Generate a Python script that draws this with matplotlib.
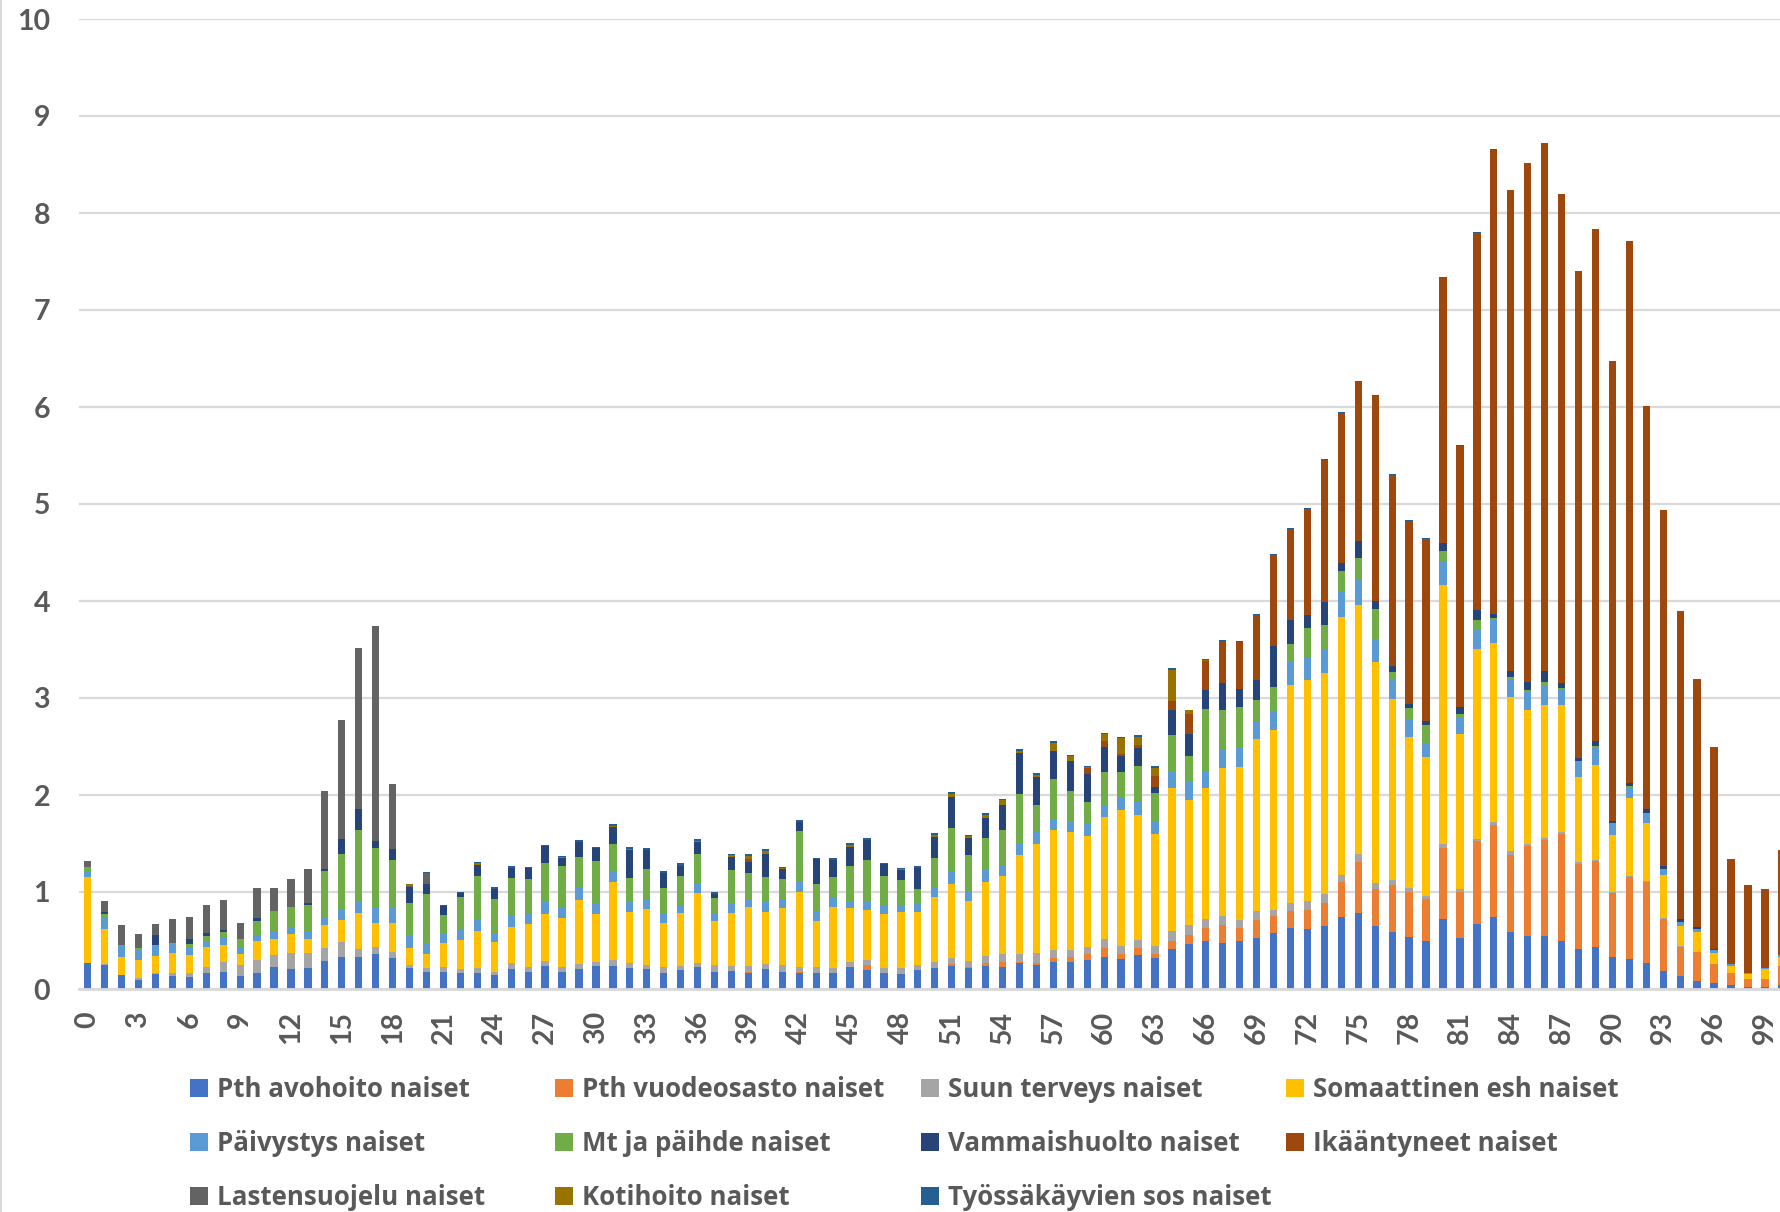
import matplotlib
matplotlib.use('Agg')
import matplotlib.pyplot as plt
from matplotlib.patches import Rectangle
import numpy as np

plt.rcParams['font.family'] = ['Lato', 'DejaVu Sans']

ages = list(range(0, 101))

# values per age 0..100
avo = [0.27, 0.245, 0.14, 0.09, 0.15, 0.13, 0.12, 0.16, 0.18, 0.13,
       0.16, 0.225, 0.205, 0.215, 0.285, 0.335, 0.33, 0.36, 0.32, 0.215,
       0.18, 0.175, 0.17, 0.17, 0.14, 0.205, 0.175, 0.24, 0.18, 0.205,
       0.235, 0.235, 0.215, 0.205, 0.17, 0.195, 0.225, 0.18, 0.185, 0.17,
       0.205, 0.175, 0.17, 0.165, 0.16, 0.225, 0.195, 0.16, 0.15, 0.195,
       0.215, 0.235, 0.215, 0.24, 0.225, 0.265, 0.25, 0.275, 0.275, 0.295,
       0.33, 0.31, 0.35, 0.315, 0.415, 0.46, 0.495, 0.475, 0.495, 0.53,
       0.575, 0.63, 0.615, 0.65, 0.74, 0.785, 0.65, 0.585, 0.54, 0.50,
       0.725, 0.53, 0.665, 0.74, 0.585, 0.545, 0.545, 0.495, 0.415, 0.43,
       0.33, 0.31, 0.265, 0.19, 0.13, 0.085, 0.065, 0.04, 0.025, 0.02,
       0.04]
vuode = [0, 0, 0, 0, 0, 0, 0, 0, 0, 0,
         0, 0, 0, 0, 0, 0, 0, 0, 0, 0,
         0, 0, 0, 0, 0, 0, 0, 0, 0, 0,
         0, 0, 0, 0, 0, 0, 0, 0, 0, 0.01,
         0, 0, 0.01, 0, 0, 0, 0.05, 0, 0, 0,
         0, 0.02, 0.015, 0.03, 0.055, 0.015, 0.015, 0.045, 0.055, 0.065,
         0.09, 0.05, 0.07, 0.045, 0.075, 0.10, 0.135, 0.185, 0.135, 0.18,
         0.175, 0.175, 0.20, 0.24, 0.36, 0.525, 0.385, 0.49, 0.465, 0.43,
         0.73, 0.475, 0.86, 0.95, 0.80, 0.93, 0.99, 1.10, 0.875, 0.89,
         0.655, 0.845, 0.84, 0.53, 0.305, 0.295, 0.19, 0.125, 0.075, 0.08,
         0.195]
suun = [0, 0.015, 0, 0.02, 0.015, 0.035, 0.04, 0.065, 0.10, 0.115,
        0.14, 0.13, 0.17, 0.155, 0.14, 0.145, 0.085, 0.075, 0.06, 0.03,
        0.035, 0.05, 0.035, 0.045, 0.04, 0.06, 0.05, 0.045, 0.045, 0.05,
        0.045, 0.06, 0.05, 0.045, 0.055, 0.045, 0.045, 0.07, 0.055, 0.055,
        0.055, 0.07, 0.05, 0.06, 0.055, 0.055, 0.05, 0.055, 0.065, 0.055,
        0.06, 0.065, 0.06, 0.075, 0.08, 0.08, 0.105, 0.08, 0.075, 0.075,
        0.095, 0.085, 0.085, 0.08, 0.105, 0.10, 0.095, 0.09, 0.085, 0.09,
        0.065, 0.085, 0.09, 0.09, 0.08, 0.08, 0.06, 0.05, 0.04, 0.03,
        0.045, 0.03, 0.025, 0.03, 0.035, 0.025, 0.025, 0.02, 0.015, 0.015,
        0.02, 0.015, 0.01, 0.01, 0.005, 0, 0, 0, 0, 0.005,
        0]
soma = [0.88, 0.36, 0.19, 0.19, 0.175, 0.205, 0.19, 0.21, 0.175, 0.12,
        0.19, 0.165, 0.19, 0.15, 0.235, 0.235, 0.37, 0.25, 0.305, 0.18,
        0.145, 0.245, 0.305, 0.385, 0.305, 0.375, 0.44, 0.485, 0.505, 0.66,
        0.495, 0.805, 0.53, 0.575, 0.46, 0.54, 0.715, 0.455, 0.545, 0.61,
        0.535, 0.585, 0.765, 0.475, 0.635, 0.55, 0.515, 0.555, 0.575, 0.545,
        0.675, 0.76, 0.615, 0.76, 0.80, 1.02, 1.125, 1.24, 1.21, 1.145,
        1.255, 1.405, 1.29, 1.155, 1.48, 1.29, 1.345, 1.53, 1.575, 1.775,
        1.855, 2.24, 2.28, 2.28, 2.66, 2.57, 2.275, 1.86, 1.55, 1.43,
        2.665, 1.59, 1.96, 1.85, 1.59, 1.38, 1.365, 1.31, 0.885, 0.975,
        0.585, 0.80, 0.60, 0.45, 0.205, 0.21, 0.12, 0.07, 0.055, 0.105,
        0.095]
paiv = [0.06, 0.12, 0.11, 0.10, 0.10, 0.095, 0.075, 0.065, 0.08, 0.06,
        0.07, 0.07, 0.075, 0.075, 0.085, 0.10, 0.115, 0.145, 0.15, 0.135,
        0.10, 0.095, 0.11, 0.11, 0.095, 0.12, 0.12, 0.13, 0.105, 0.13,
        0.105, 0.105, 0.105, 0.105, 0.095, 0.09, 0.095, 0.08, 0.09, 0.085,
        0.10, 0.09, 0.105, 0.095, 0.10, 0.08, 0.085, 0.10, 0.075, 0.095,
        0.09, 0.14, 0.11, 0.125, 0.12, 0.12, 0.12, 0.105, 0.12, 0.13,
        0.13, 0.13, 0.14, 0.135, 0.16, 0.18, 0.17, 0.18, 0.20, 0.185,
        0.185, 0.24, 0.23, 0.24, 0.26, 0.26, 0.24, 0.205, 0.185, 0.15,
        0.245, 0.175, 0.20, 0.245, 0.19, 0.18, 0.195, 0.17, 0.155, 0.17,
        0.12, 0.11, 0.09, 0.055, 0.05, 0.025, 0.025, 0.02, 0.005, 0.01,
        0.02]
mt = [0.05, 0.035, 0.01, 0.02, 0.015, 0.01, 0.04, 0.05, 0.055, 0.095,
      0.14, 0.21, 0.205, 0.27, 0.47, 0.575, 0.74, 0.62, 0.495, 0.33,
      0.515, 0.20, 0.325, 0.46, 0.35, 0.38, 0.35, 0.395, 0.43, 0.315,
      0.44, 0.29, 0.24, 0.31, 0.26, 0.30, 0.315, 0.15, 0.355, 0.265,
      0.255, 0.21, 0.525, 0.285, 0.205, 0.36, 0.435, 0.29, 0.255, 0.14,
      0.31, 0.44, 0.365, 0.33, 0.355, 0.51, 0.285, 0.425, 0.305, 0.22,
      0.335, 0.26, 0.365, 0.29, 0.385, 0.275, 0.645, 0.42, 0.415, 0.22,
      0.255, 0.19, 0.31, 0.25, 0.21, 0.22, 0.31, 0.075, 0.115, 0.18,
      0.11, 0.04, 0.09, 0.01, 0.02, 0.02, 0.04, 0.01, 0.005, 0.03,
      0.005, 0.01, 0.01, 0, 0, 0, 0, 0, 0, 0,
      0]
vamm = [0, 0.015, 0, 0, 0.105, 0, 0.05, 0.03, 0.02, 0,
        0.03, 0, 0, 0.025, 0.025, 0.16, 0.215, 0.08, 0.115, 0.16,
        0.11, 0.095, 0.04, 0.105, 0.10, 0.11, 0.11, 0.175, 0.085, 0.155,
        0.13, 0.18, 0.29, 0.195, 0.16, 0.10, 0.12, 0.045, 0.13, 0.11,
        0.24, 0.105, 0.10, 0.26, 0.175, 0.195, 0.21, 0.125, 0.11, 0.22,
        0.22, 0.32, 0.175, 0.20, 0.265, 0.425, 0.29, 0.28, 0.315, 0.285,
        0.255, 0.165, 0.18, 0.065, 0.26, 0.22, 0.195, 0.275, 0.185, 0.21,
        0.43, 0.24, 0.13, 0.24, 0.08, 0.18, 0.08, 0.06, 0.045, 0.04,
        0.075, 0.07, 0.11, 0.045, 0.06, 0.09, 0.12, 0.05, 0.03, 0.05,
        0.02, 0.03, 0.04, 0.03, 0.03, 0.025, 0.01, 0.005, 0, 0,
        0]
ika = [0, 0, 0, 0, 0, 0, 0, 0, 0, 0,
       0, 0, 0, 0, 0, 0, 0, 0, 0, 0,
       0, 0, 0, 0, 0, 0, 0, 0, 0, 0,
       0, 0, 0, 0, 0, 0, 0, 0, 0, 0.04,
       0, 0, 0, 0, 0, 0, 0, 0, 0, 0,
       0, 0, 0, 0, 0, 0, 0, 0, 0, 0.06,
       0.065, 0.02, 0.035, 0.11, 0.09, 0.21, 0.305, 0.43, 0.49, 0.67,
       0.93, 0.94, 1.095, 1.46, 1.55, 1.64, 2.11, 1.975, 1.88, 1.88,
       2.735, 2.69, 3.88, 4.78, 4.96, 5.35, 5.44, 5.045, 5.02, 5.27,
       4.735, 5.59, 4.155, 3.675, 3.175, 2.56, 2.09, 1.085, 0.915, 0.81,
       1.08]
lasten = [0.06, 0.12, 0.21, 0.15, 0.11, 0.245, 0.225, 0.285, 0.31, 0.165,
          0.31, 0.24, 0.285, 0.345, 0.80, 1.22, 1.665, 2.21, 0.665, 0.01,
          0.115] + [0] * 80
koti = [0] * 19 + [0.02, 0, 0, 0, 0.025, 0, 0, 0, 0, 0.01, 0,
        0, 0.01, 0.01, 0, 0, 0, 0.015, 0, 0.02, 0.025,
        0.03, 0.01, 0, 0, 0, 0.02, 0, 0, 0.01, 0,
        0.02, 0.035, 0.02, 0.03, 0.045, 0.02, 0.02, 0.09, 0.045, 0.01,
        0.07, 0.16, 0.08, 0.08, 0.315, 0.045, 0.005] + [0] * 34
tyo = [0] * 20 + [0.01, 0.01, 0.01, 0.01, 0.02, 0.02, 0.015, 0.015, 0.01, 0.02,
       0.01, 0.015, 0.02, 0.015, 0.015, 0.025, 0.015, 0.02, 0.015, 0.02,
       0.02, 0.015, 0.015, 0.015, 0.025, 0.02, 0.02, 0.015, 0.01, 0.015,
       0.015, 0.015, 0.015, 0.025, 0.015, 0.02, 0.015, 0.02, 0.015, 0.015,
       0.015, 0.015, 0.02, 0.025, 0.025, 0, 0.01] + [0.01] * 17 + [0] * 17

series = [avo, vuode, suun, soma, paiv, mt, vamm, ika, lasten, koti, tyo]
names = ['Pth avohoito naiset', 'Pth vuodeosasto naiset', 'Suun terveys naiset',
         'Somaattinen esh naiset', 'Päivystys naiset', 'Mt ja päihde naiset',
         'Vammaishuolto naiset', 'Ikääntyneet naiset', 'Lastensuojelu naiset',
         'Kotihoito naiset', 'Työssäkäyvien sos naiset']
colors = ['#4472C4', '#ED7D31', '#A5A5A5', '#FFC000', '#5B9BD5', '#70AD47',
          '#264478', '#9E480E', '#636363', '#997300', '#255E91']

W, H = 1781, 1212
txt = '#595959'
fig = plt.figure(figsize=(W / 100, H / 100), dpi=100)
ax = fig.add_axes([79.2 / W, (H - 989) / H, (W - 79.2) / W, 970 / H])

bottom = np.zeros(len(ages))
for vals, c in zip(series, colors):
    ax.bar(ages, vals, width=0.43, bottom=bottom, color=c, linewidth=0, zorder=3)
    bottom += np.array(vals)

# the original chart is cut off at the right, inside the bar for age 100
ax.set_xlim(-0.5, 99.95)
ax.set_ylim(0, 10)
ax.set_yticks(range(0, 11))
ax.set_xticks(range(0, 100, 3))
ax.grid(axis='y', color='#D9D9D9', linewidth=1.6, zorder=0)
for s in ['top', 'right', 'left']:
    ax.spines[s].set_visible(False)
ax.spines['bottom'].set_color('#D9D9D9')
ax.spines['bottom'].set_linewidth(2)
ax.spines['bottom'].set_zorder(4)
ax.tick_params(axis='both', length=0, labelcolor=txt)
ax.tick_params(axis='y', pad=21, labelsize=20.5)
ax.tick_params(axis='x', pad=16, labelsize=20.5, labelrotation=90)
for lab in ax.get_xticklabels() + ax.get_yticklabels():
    lab.set_fontweight('bold')

# left frame edge of the original chart
fig.add_artist(plt.Line2D([0.5 / W, 0.5 / W], [0, 1], color='#D9D9D9', linewidth=1.5))

# legend, 4 columns x 3 rows
for i, (n, c) in enumerate(zip(names, colors)):
    row, col = i // 4, i % 4
    x0 = 190 + 365.5 * col
    ybot = 1097 + 54 * row
    fig.add_artist(Rectangle((x0 / W, (H - ybot) / H), 18 / W, 18 / H,
                             transform=fig.transFigure, color=c, linewidth=0))
    fig.text((x0 + 27) / W, (H - ybot) / H, n, fontsize=18.6, fontweight='bold',
             family=['Open Sans', 'DejaVu Sans'], color=txt,
             va='baseline', ha='left')

fig.savefig('out.png', dpi=100)
